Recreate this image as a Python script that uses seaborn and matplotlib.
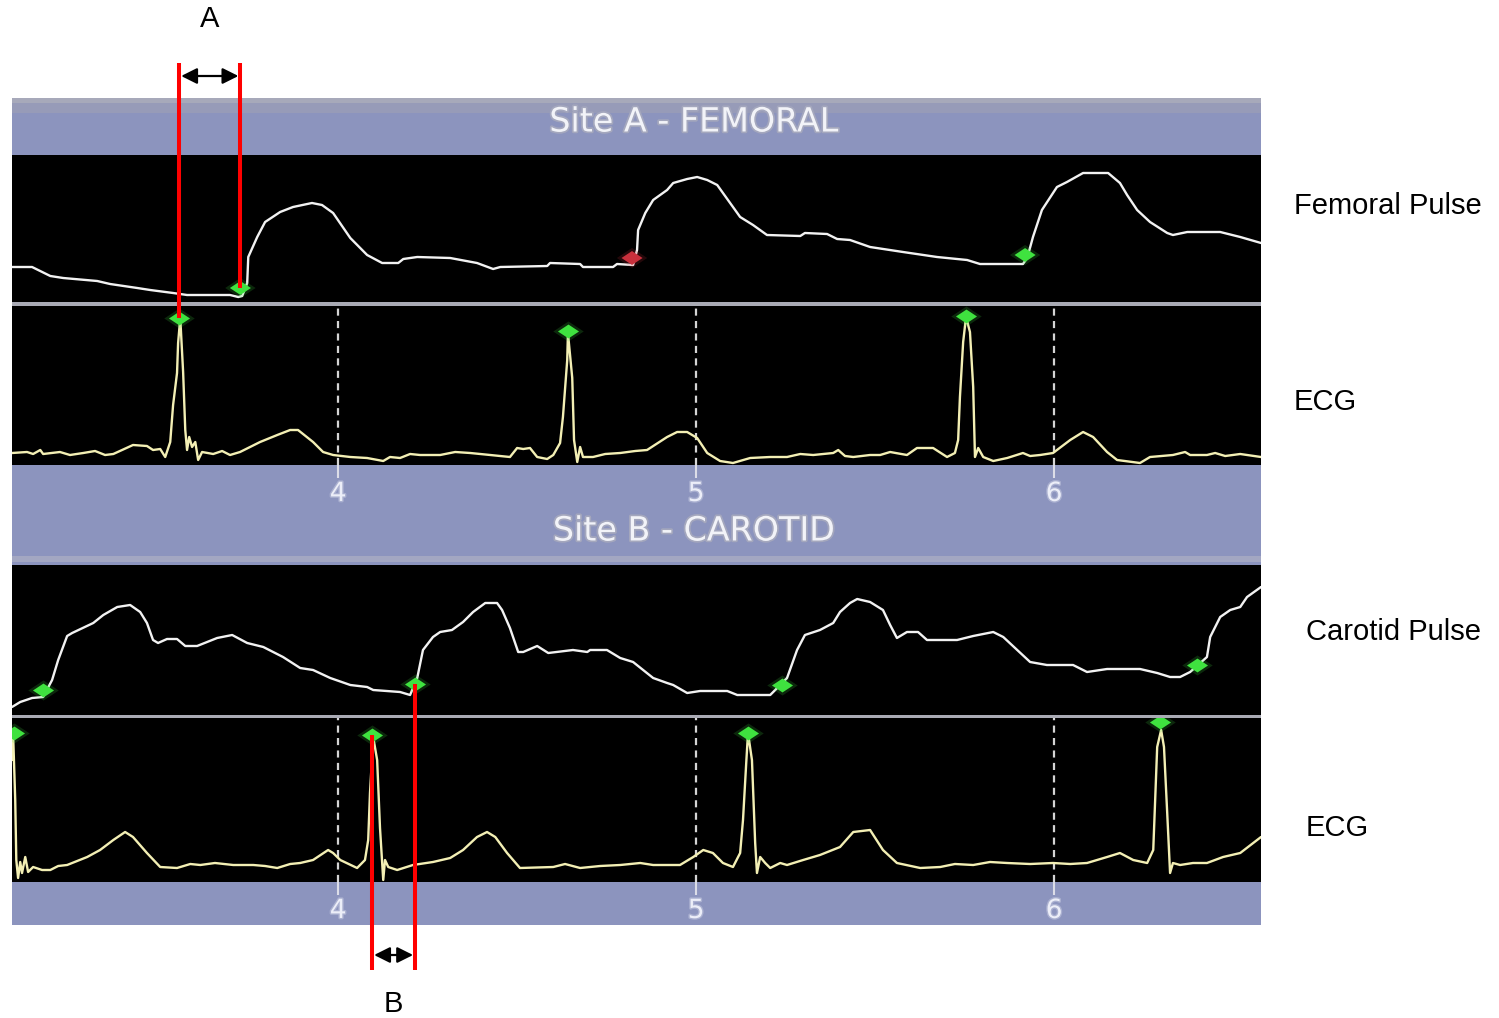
import matplotlib
matplotlib.use("Agg")
import matplotlib.pyplot as plt
import matplotlib.patheffects as pe
from matplotlib.patches import Rectangle
import seaborn as sns

# ---------------- recorded traces (time in s, amplitude in ADC units) ----------------
fem_t = [3.089, 3.145, 3.196, 3.232, 3.327, 3.363, 3.439, 3.475, 3.539, 3.578,
         3.698, 3.721, 3.732, 3.746, 3.749, 3.774, 3.796, 3.838, 3.874, 3.927,
         3.955, 3.986, 4.034, 4.081, 4.123, 4.168, 4.182, 4.221, 4.313, 4.388,
         4.433, 4.453, 4.584, 4.592, 4.676, 4.684, 4.768, 4.779, 4.824, 4.835,
         4.838, 4.858, 4.880, 4.919, 4.936, 4.975, 5.003, 5.031, 5.059, 5.095,
         5.123, 5.159, 5.198, 5.291, 5.304, 5.366, 5.394, 5.430, 5.486, 5.578,
         5.673, 5.757, 5.793, 5.913, 5.925, 5.941, 5.966, 6.008, 6.036, 6.081,
         6.151, 6.184, 6.204, 6.232, 6.268, 6.316, 6.332, 6.372, 6.464, 6.520,
         6.578]
fem_a = [35, 35, 26, 24, 21, 18, 14, 12, 9, 7,
         7, 5, 6, 19, 45, 65, 80, 90, 95, 99,
         97, 89, 64, 47, 39, 39, 43, 45, 44, 39,
         33, 35, 36, 39, 38, 35, 35, 38, 37, 52,
         72, 89, 102, 112, 119, 123, 125, 122, 117, 99,
         85, 77, 67, 66, 69, 68, 63, 62, 55, 50,
         45, 42, 38, 38, 44, 65, 92, 115, 120, 129,
         129, 119, 107, 92, 80, 69, 67, 70, 70, 65,
         59]

ecga_t = [3.089, 3.131, 3.148, 3.168, 3.176, 3.223, 3.251, 3.288, 3.321, 3.349,
          3.372, 3.427, 3.466, 3.483, 3.503, 3.517, 3.531, 3.539, 3.550, 3.553,
          3.559, 3.567, 3.573, 3.578, 3.584, 3.592, 3.601, 3.609, 3.620, 3.651,
          3.676, 3.698, 3.726, 3.782, 3.830, 3.866, 3.888, 3.930, 3.958, 3.986,
          4.034, 4.081, 4.126, 4.145, 4.173, 4.201, 4.229, 4.285, 4.327, 4.369,
          4.425, 4.480, 4.500, 4.517, 4.536, 4.556, 4.584, 4.601, 4.620, 4.628,
          4.640, 4.642, 4.654, 4.659, 4.668, 4.676, 4.684, 4.712, 4.746, 4.788,
          4.830, 4.863, 4.919, 4.947, 4.975, 5.003, 5.031, 5.067, 5.103, 5.151,
          5.207, 5.254, 5.291, 5.327, 5.383, 5.397, 5.416, 5.439, 5.486, 5.514,
          5.542, 5.589, 5.617, 5.662, 5.701, 5.723, 5.732, 5.737, 5.746, 5.754,
          5.765, 5.774, 5.779, 5.788, 5.802, 5.830, 5.869, 5.913, 5.933, 5.961,
          5.997, 6.045, 6.081, 6.109, 6.148, 6.176, 6.240, 6.268, 6.332, 6.366,
          6.380, 6.427, 6.450, 6.478, 6.520, 6.578]
ecga_a = [12, 13, 11, 15, 11, 13, 10, 12, 14, 10,
          11, 20, 19, 15, 16, 8, 23, 60, 92, 122,
          147, 93, 35, 15, 28, 18, 23, 5, 13, 11,
          14, 10, 13, 23, 30, 35, 35, 23, 13, 10,
          8, 7, 4, 8, 7, 11, 10, 10, 13, 12,
          10, 8, 17, 16, 17, 8, 6, 10, 22, 48,
          105, 132, 87, 25, 3, 18, 8, 8, 11, 12,
          14, 15, 28, 33, 33, 27, 12, 4, 2, 7,
          8, 8, 11, 10, 12, 15, 9, 8, 10, 10,
          13, 10, 17, 17, 8, 12, 25, 68, 123, 148,
          133, 78, 8, 17, 8, 4, 7, 12, 9, 10,
          12, 25, 33, 28, 13, 5, 2, 8, 10, 13,
          10, 10, 12, 9, 11, 8]

car_t = [3.089, 3.112, 3.145, 3.176, 3.201, 3.218, 3.243, 3.257, 3.316, 3.344,
         3.383, 3.419, 3.447, 3.466, 3.483, 3.497, 3.522, 3.550, 3.573, 3.606,
         3.662, 3.704, 3.746, 3.791, 3.846, 3.894, 3.930, 3.978, 4.034, 4.081,
         4.098, 4.173, 4.201, 4.221, 4.237, 4.265, 4.285, 4.318, 4.349, 4.377,
         4.411, 4.444, 4.458, 4.480, 4.503, 4.517, 4.556, 4.587, 4.656, 4.696,
         4.704, 4.751, 4.788, 4.824, 4.880, 4.919, 4.936, 4.975, 5.011, 5.087,
         5.115, 5.207, 5.221, 5.254, 5.282, 5.304, 5.346, 5.383, 5.402, 5.430,
         5.450, 5.486, 5.522, 5.542, 5.561, 5.589, 5.620, 5.645, 5.729, 5.774,
         5.830, 5.858, 5.897, 5.933, 5.980, 6.053, 6.092, 6.148, 6.240, 6.288,
         6.324, 6.352, 6.380, 6.427, 6.436, 6.464, 6.492, 6.520, 6.539, 6.578]
car_a = [8, 13, 17, 18, 35, 55, 79, 82, 92, 100,
         108, 110, 103, 92, 75, 72, 76, 76, 69, 69,
         77, 80, 72, 68, 58, 47, 45, 37, 30, 28,
         25, 23, 20, 37, 65, 78, 83, 85, 93, 103,
         112, 112, 105, 87, 63, 63, 69, 62, 65, 63,
         65, 65, 57, 53, 37, 32, 30, 22, 24, 24,
         20, 20, 25, 37, 65, 80, 85, 92, 103, 112,
         116, 113, 105, 90, 77, 83, 83, 75, 75, 79,
         83, 78, 65, 53, 50, 50, 43, 46, 46, 42,
         38, 38, 43, 58, 78, 98, 105, 108, 118, 128]

ecgb_t = [3.089, 3.092, 3.098, 3.101, 3.106, 3.112, 3.117, 3.126, 3.134, 3.148,
          3.173, 3.196, 3.218, 3.243, 3.271, 3.299, 3.335, 3.372, 3.405, 3.427,
          3.466, 3.503, 3.550, 3.587, 3.615, 3.656, 3.707, 3.763, 3.796, 3.830,
          3.866, 3.894, 3.930, 3.972, 3.986, 4.006, 4.053, 4.075, 4.084, 4.089,
          4.098, 4.109, 4.117, 4.126, 4.131, 4.140, 4.165, 4.209, 4.265, 4.313,
          4.349, 4.388, 4.416, 4.439, 4.472, 4.508, 4.601, 4.634, 4.676, 4.732,
          4.788, 4.844, 4.880, 4.955, 4.992, 5.020, 5.047, 5.075, 5.103, 5.123,
          5.131, 5.140, 5.145, 5.156, 5.165, 5.170, 5.179, 5.193, 5.207, 5.235,
          5.254, 5.299, 5.346, 5.402, 5.439, 5.486, 5.522, 5.561, 5.626, 5.682,
          5.723, 5.774, 5.821, 5.869, 5.933, 5.997, 6.045, 6.092, 6.148, 6.184,
          6.221, 6.260, 6.277, 6.288, 6.299, 6.307, 6.316, 6.324, 6.332, 6.352,
          6.388, 6.427, 6.472, 6.520, 6.578]
ecgb_a = [122, 149, 82, 22, 4, 20, 9, 25, 10, 15,
          12, 12, 16, 17, 21, 25, 32, 42, 50, 45,
          29, 15, 14, 18, 17, 19, 17, 17, 16, 14,
          18, 19, 22, 32, 29, 22, 14, 22, 42, 89,
          145, 122, 54, 2, 22, 15, 12, 17, 20, 24,
          32, 45, 50, 45, 29, 14, 15, 18, 14, 16,
          17, 19, 17, 17, 25, 32, 29, 19, 15, 29,
          62, 119, 149, 122, 39, 9, 25, 19, 14, 19,
          17, 22, 27, 35, 50, 52, 32, 19, 14, 15,
          18, 17, 20, 19, 18, 19, 18, 19, 25, 29,
          22, 19, 32, 135, 152, 135, 69, 9, 19, 17,
          19, 19, 25, 29, 45]

# detected fiducial points (pulse foot / ECG R-peak)
fem_mark_t = [3.727, 4.821, 5.919]
fem_mark_a = [14, 44, 47]
fem_mark_state = ["accepted", "rejected", "accepted"]
ecga_mark_t = [3.556, 4.642, 5.754]
ecga_mark_a = [147, 134, 149]
car_mark_t = [3.176, 4.215, 5.240, 6.399]
car_mark_a = [25, 31, 30, 50]
ecgb_mark_t = [3.095, 4.095, 5.145, 6.296]
ecgb_mark_a = [149, 147, 149, 160]

TICK_POS = [4, 5, 6]
TICK_LABELS = ["4", "5", "6"]
T_MIN, T_MAX = 3.089, 6.578

# ---------------- styling ----------------
sns.set_theme(style="dark")
plt.rcParams["font.family"] = ["DejaVu Sans"]

W, H = 1499, 1018
fig = plt.figure(figsize=(W / 100, H / 100), dpi=100, facecolor="white")


def add_px_axes(left, top, right, bottom, **kw):
    return fig.add_axes([left / W, 1 - bottom / H, (right - left) / W, (bottom - top) / H], **kw)


PANEL_L, PANEL_R = 12, 1261
SCREEN_BLUE = "#8c94be"
SEP_GRAY = "#a9aab4"
PULSE_COLOR = "#f2f2f2"
ECG_COLOR = "#f3efb4"
SCREEN_TEXT = "#f2f3f8"
ARIAL = ["Liberation Sans", "DejaVu Sans"]
FLAT_DIAMOND = [(-1.0, 0.0), (0.0, 0.66), (1.0, 0.0), (0.0, -0.66), (-1.0, 0.0)]

# screen background (blue header / axis bars and separators)
bg = add_px_axes(0, 0, W, H, zorder=0)
bg.set_xlim(0, W)
bg.set_ylim(H, 0)
bg.axis("off")
bg.add_patch(Rectangle((PANEL_L, 98), PANEL_R - PANEL_L, 827, color=SCREEN_BLUE, lw=0))
bg.add_patch(Rectangle((PANEL_L, 98), PANEL_R - PANEL_L, 5, color="#a7a9ba", lw=0))
bg.add_patch(Rectangle((PANEL_L, 103), PANEL_R - PANEL_L, 10, color="#979bb8", lw=0))
bg.add_patch(Rectangle((PANEL_L, 300), PANEL_R - PANEL_L, 7, color=SEP_GRAY, lw=0))
bg.add_patch(Rectangle((PANEL_L, 713), PANEL_R - PANEL_L, 7, color=SEP_GRAY, lw=0))
bg.add_patch(Rectangle((PANEL_L, 556), PANEL_R - PANEL_L, 6, color="#a3a7c2", lw=0))

screen_fx = [pe.withStroke(linewidth=2.5, foreground="#a4a7bd")]
bg.text(694, 122, "Site A - FEMORAL", ha="center", va="center", fontsize=24,
        color=SCREEN_TEXT, path_effects=screen_fx)
bg.text(694, 531, "Site B - CAROTID", ha="center", va="center", fontsize=24,
        color=SCREEN_TEXT, path_effects=screen_fx)

panels = {
    "fem": dict(box=(155, 302), t=fem_t, a=fem_a, ymax=147, color=PULSE_COLOR, ecg=False),
    "ecga": dict(box=(306, 465), t=ecga_t, a=ecga_a, ymax=159, color=ECG_COLOR, ecg=True),
    "car": dict(box=(565, 715), t=car_t, a=car_a, ymax=150, color=PULSE_COLOR, ecg=False),
    "ecgb": dict(box=(718, 882), t=ecgb_t, a=ecgb_a, ymax=164, color=ECG_COLOR, ecg=True),
}

axes = {}
for key, p in panels.items():
    top, bottom = p["box"]
    ax = add_px_axes(PANEL_L, top, PANEL_R, bottom, zorder=2)
    ax.set_facecolor("black")
    sns.lineplot(x=p["t"], y=p["a"], ax=ax, color=p["color"], linewidth=1.7,
                 sort=False, estimator=None)
    ax.set_xlim(T_MIN, T_MAX)
    ax.set_ylim(0, p["ymax"])
    ax.set(xlabel=None, ylabel=None, yticks=[])
    for s in ax.spines.values():
        s.set_visible(False)
    if p["ecg"]:
        ax.set_xticks(TICK_POS)
        ax.set_xticklabels(TICK_LABELS)
        ax.grid(True, axis="x", color="#d4d4d4", linestyle=(0, (3.2, 2.4)), linewidth=1.6)
        ax.tick_params(axis="x", bottom=True, direction="out", length=9, width=1.5,
                       color="#dcdde8", pad=2.5, labelsize=19, labelcolor="#eceef8")
        for lbl in ax.get_xticklabels():
            lbl.set_path_effects([pe.withStroke(linewidth=2, foreground="#aab0d0")])
    else:
        ax.set_xticks([])
    axes[key] = ax


def draw_markers(ax, t, a, hue=None, palette=None):
    kw = dict(marker=FLAT_DIAMOND, legend=False, linewidth=0, ax=ax)
    if hue is None:
        sns.scatterplot(x=t, y=a, s=480, color="#46e046", alpha=0.18, zorder=4, **kw)
        sns.scatterplot(x=t, y=a, s=230, color="#3fe23f", zorder=5, **kw)
    else:
        sns.scatterplot(x=t, y=a, hue=hue, palette=palette, s=480, alpha=0.18, zorder=4, **kw)
        sns.scatterplot(x=t, y=a, hue=hue, palette=palette, s=230, zorder=5, **kw)


draw_markers(axes["fem"], fem_mark_t, fem_mark_a, hue=fem_mark_state,
             palette={"accepted": "#3fe23f", "rejected": "#c8303c"})
draw_markers(axes["ecga"], ecga_mark_t, ecga_mark_a)
draw_markers(axes["car"], car_mark_t, car_mark_a)
draw_markers(axes["ecgb"], ecgb_mark_t, ecgb_mark_a)

# ---------------- transit-time annotations ----------------
fg = add_px_axes(0, 0, W, H, zorder=5)
fg.set_xlim(0, W)
fg.set_ylim(H, 0)
fg.axis("off")
fg.patch.set_alpha(0)


def to_px(ax, t, a):
    return fg.transData.inverted().transform(ax.transData.transform((t, a)))


RED = "#ff0000"
arrow_kw = dict(arrowstyle="<|-|>", color="black", lw=1.6, mutation_scale=24,
                shrinkA=0, shrinkB=0)

# A: ECG R-peak -> femoral foot
xa0, ya0 = to_px(axes["ecga"], ecga_mark_t[0], ecga_mark_a[0])
xa1, ya1 = to_px(axes["fem"], fem_mark_t[0], fem_mark_a[0])
fg.plot([xa0, xa0], [63, ya0], color=RED, lw=2.9, solid_capstyle="butt")
fg.plot([xa1, xa1], [63, ya1], color=RED, lw=2.9, solid_capstyle="butt")
fg.annotate("", xy=(xa1 - 2, 76), xytext=(xa0 + 2, 76), arrowprops=arrow_kw)
fg.text((xa0 + xa1) / 2, 19, "A", ha="center", va="center", fontsize=21,
        family=ARIAL, color="black")

# B: ECG R-peak -> carotid foot
xb0, yb0 = to_px(axes["ecgb"], ecgb_mark_t[1], ecgb_mark_a[1])
xb1, yb1 = to_px(axes["car"], car_mark_t[1], car_mark_a[1])
fg.plot([xb0, xb0], [yb0, 970], color=RED, lw=2.9, solid_capstyle="butt")
fg.plot([xb1, xb1], [yb1, 970], color=RED, lw=2.9, solid_capstyle="butt")
fg.annotate("", xy=(xb1 - 2, 955), xytext=(xb0 + 2, 955), arrowprops=arrow_kw)
fg.text((xb0 + xb1) / 2, 1004, "B", ha="center", va="center", fontsize=21,
        family=ARIAL, color="black")

# channel names
for x, y, label in [(1294, 206, "Femoral Pulse"), (1294, 402, "ECG"),
                    (1306, 632, "Carotid Pulse"), (1306, 828, "ECG")]:
    fg.text(x, y, label, ha="left", va="center", fontsize=21, family=ARIAL, color="black")

fig.savefig("out.png", dpi=100, facecolor="white")
